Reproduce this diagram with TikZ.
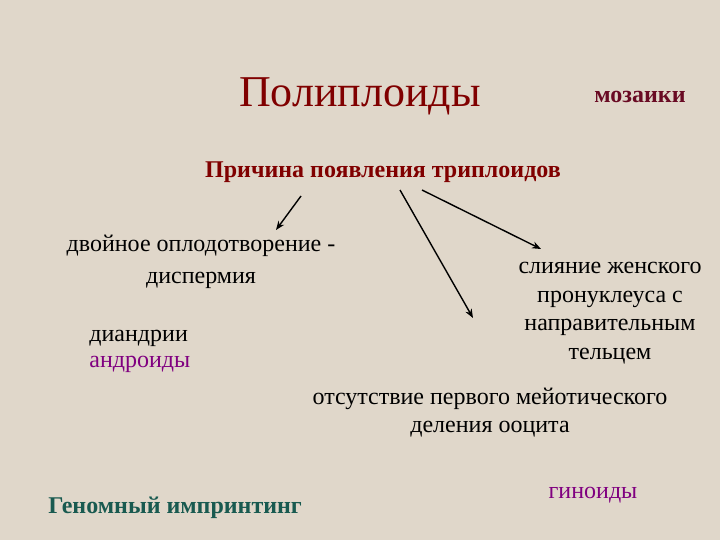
\documentclass[tikz,border=0pt]{standalone}
\usepackage{fontspec}
\setmainfont{Liberation Serif}
\usetikzlibrary{arrows.meta}

\definecolor{paper}{RGB}{224,215,202}
\definecolor{maroon}{RGB}{128,0,0}
\definecolor{wine}{RGB}{105,10,35}
\definecolor{teal}{RGB}{25,90,80}
\definecolor{violet}{RGB}{128,0,128}

\begin{document}
\begin{tikzpicture} [x=1pt,y=-1pt,>={Stealth[length=9pt,width=7pt]},
    thick,
    text node/.style={align=center,inner sep=0pt,
      font=\fontsize{24}{28.5}\selectfont},
    head node/.style={align=center,inner sep=0pt,text=maroon,
      font=\bfseries\fontsize{24}{28}\selectfont},
    link/.style={->,line width=1.4pt,black}]

  \fill[color = paper] (0,0) rectangle (720,540);

  % titles
  \node [inner sep=0pt, text=maroon, font=\fontsize{44}{50}\selectfont] (title) at (360,96) {Полиплоиды};
  \node [head node, text=wine] (mosaic) at (640,97) {мозаики};
  \node [head node] (cause) at (383,172) {Причина появления триплоидов};

  % draw the causes
  \node [text node, font=\fontsize{24}{32}\selectfont] (dispermy) at (201,262) {двойное оплодотворение -\\диспермия};
  \node [text node, align=left, anchor=west, font=\fontsize{24}{26}\selectfont] (diandry) at (89,351) {диандрии\\\textcolor{violet}{андроиды}};
  \node [text node] (fusion) at (610,313) {слияние женского\\пронуклеуса с\\направительным\\тельцем};
  \node [text node, font=\fontsize{24}{28}\selectfont] (meiosis) at (490,413) {отсутствие первого мейотического\\деления ооцита};
  \node [text node, text=teal, anchor=west, font=\bfseries\fontsize{24}{28}\selectfont] (imprint) at (48,508) {Геномный импринтинг};
  \node [text node, text=violet] (gynoid) at (593,495) {гиноиды};

  % connectors between the nodes
  \coordinate (from1) at (301,196);
  \coordinate (to1) at (276,230);
  \coordinate (from2) at (400,190);
  \coordinate (to2) at (473,318);
  \coordinate (from3) at (422,190);
  \coordinate (to3) at (541,249);
  \draw[link] (from1) -- (to1);
  \draw[link] (from2) -- (to2);
  \draw[link] (from3) -- (to3);

\end{tikzpicture}
\end{document}
